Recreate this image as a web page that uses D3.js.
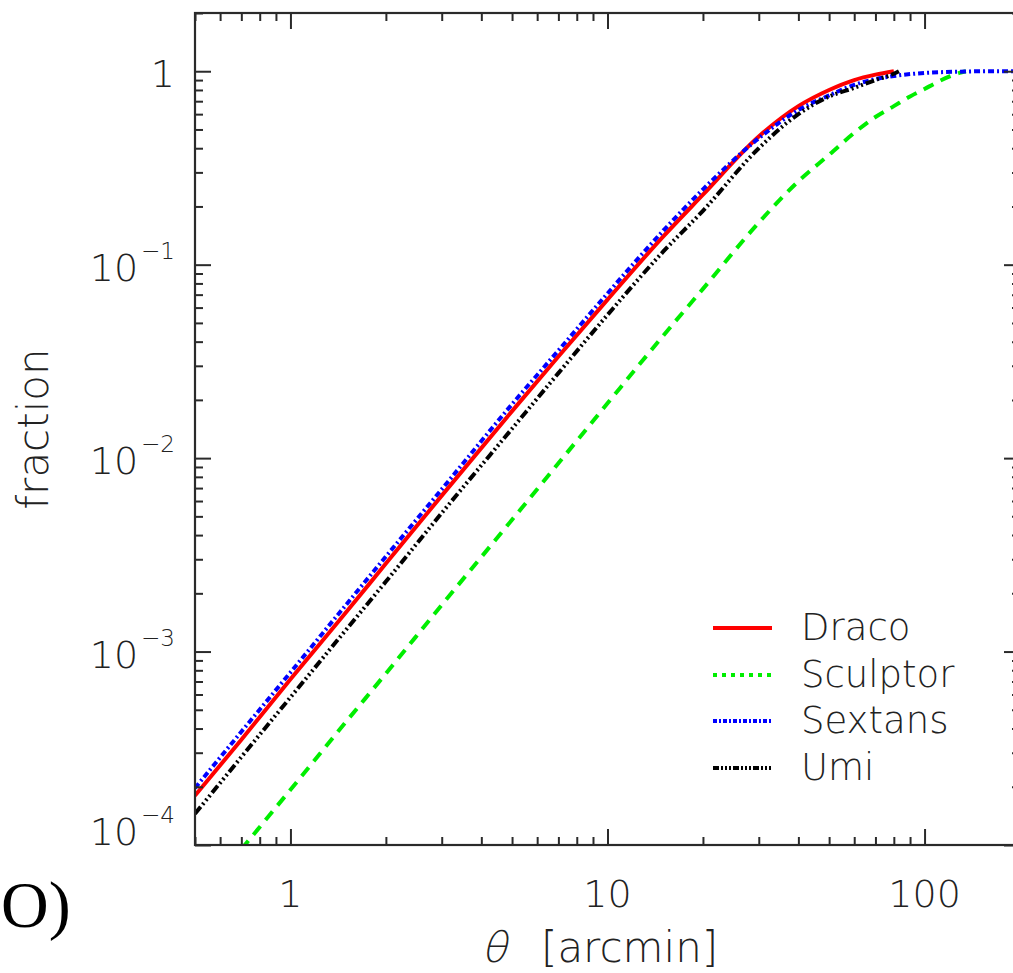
<!DOCTYPE html>
<html>
<head>
<meta charset="utf-8">
<script src="https://cdn.jsdelivr.net/npm/d3@7"></script>
<style>
  html, body { margin: 0; padding: 0; background: #fff; }
  svg { display: block; }
  text { font-family: "DejaVu Sans", sans-serif; font-weight: 200; fill: #222; }
</style>
</head>
<body>
<svg id="chart" width="1013" height="973"></svg>
<script>
// Cumulative fraction of the signal enclosed within angle theta (arcmin)
const galaxies = ["Draco", "Sculptor", "Sextans", "Umi"];

const thetaDraco = [0.5, 0.7, 1, 1.5, 2, 3, 5, 7, 10, 15, 20, 30, 40, 50, 60, 70, 80];
const fracDraco  = [1.8e-4, 3.5e-4, 7.2e-4, 1.6e-3, 2.85e-3, 6.4e-3, 1.75e-2, 3.35e-2, 6.6e-2, 0.14, 0.23, 0.46, 0.66, 0.80, 0.90, 0.96, 1.0];

const thetaSculptor = [0.7, 1, 1.5, 2, 3, 5, 7, 10, 15, 20, 30, 40, 50, 60, 70, 80, 90, 100, 110, 120, 130, 135];
const fracSculptor  = [9.5e-5, 1.93e-4, 4.35e-4, 7.7e-4, 1.74e-3, 4.8e-3, 9.4e-3, 1.92e-2, 4.3e-2, 7.5e-2, 0.165, 0.27, 0.37, 0.48, 0.58, 0.66, 0.74, 0.81, 0.88, 0.94, 0.985, 1.0];

const thetaSextans = [0.5, 0.7, 1, 1.5, 2, 3, 5, 7, 10, 15, 20, 30, 40, 50, 60, 70, 80, 100, 130, 160, 200];
const fracSextans  = [1.97e-4, 3.85e-4, 7.8e-4, 1.75e-3, 3.1e-3, 6.9e-3, 1.9e-2, 3.6e-2, 7.1e-2, 0.15, 0.245, 0.45, 0.63, 0.75, 0.85, 0.91, 0.945, 0.98, 0.995, 1.0, 1.0];

const thetaUmi = [0.5, 0.7, 1, 1.5, 2, 3, 5, 7, 10, 15, 20, 30, 40, 50, 60, 70, 80, 83];
const fracUmi  = [1.45e-4, 2.85e-4, 5.8e-4, 1.3e-3, 2.3e-3, 5.2e-3, 1.42e-2, 2.75e-2, 5.5e-2, 0.117, 0.19, 0.40, 0.60, 0.74, 0.82, 0.90, 0.97, 1.0];

const xTickValues = [1, 10, 100];
const xTickLabels = ["1", "10", "100"];
const yTickValues = [1, 1e-1, 1e-2, 1e-3, 1e-4];
const yTickExponents = [0, -1, -2, -3, -4];

const seriesData = {
  Draco:    { theta: thetaDraco,    frac: fracDraco },
  Sculptor: { theta: thetaSculptor, frac: fracSculptor },
  Sextans:  { theta: thetaSextans,  frac: fracSextans },
  Umi:      { theta: thetaUmi,      frac: fracUmi }
};

const styles = {
  Draco:    { color: "#ff0000", dash: null,                 legendDash: null },
  Sculptor: { color: "#00ee00", dash: "11,8",               legendDash: "4,5" },
  Sextans:  { color: "#0000ff", dash: "6,3,2,3",            legendDash: "4,2,2,2" },
  Umi:      { color: "#000000", dash: "9,3,2,3,2,3,2,3",    legendDash: "6,2,2,2,2,2,2,2" }
};

const svg = d3.select("#chart");
const frame = { left: 195, top: 13, right: 1020, bottom: 845 };

const x = d3.scaleLog().domain([0.5, 200]).range([frame.left, frame.right]);
const y = d3.scaleLog().domain([1e-4, 2]).range([frame.bottom, frame.top]);

const isDecade = v => Math.abs(Math.log10(v) - Math.round(Math.log10(v))) < 1e-9;
const xMinor = x.ticks().filter(v => !isDecade(v));
const yMinor = y.ticks().filter(v => !isDecade(v));

svg.append("rect").attr("width", 1013).attr("height", 973).attr("fill", "#fff");

// clip region for the curves
svg.append("clipPath").attr("id", "plotClip")
  .append("rect")
  .attr("x", frame.left).attr("y", frame.top)
  .attr("width", frame.right - frame.left).attr("height", frame.bottom - frame.top);

// curves
const line = d3.line()
  .x(d => x(d[0]))
  .y(d => y(d[1]))
  .curve(d3.curveMonotoneX);

const curves = svg.append("g").attr("clip-path", "url(#plotClip)");
galaxies.forEach(name => {
  const s = seriesData[name];
  const pts = s.theta.map((t, i) => [t, s.frac[i]]);
  curves.append("path")
    .datum(pts)
    .attr("d", line)
    .attr("fill", "none")
    .attr("stroke", styles[name].color)
    .attr("stroke-width", 4)
    .attr("stroke-dasharray", styles[name].dash);
});

// axes: major and minor ticks pointing into the frame on all four sides
function styleAxis(g) {
  g.select(".domain").remove();
  g.selectAll(".tick line").attr("stroke", "#2a2a2a").attr("stroke-width", 2);
  g.selectAll(".tick text").remove();
}
const axes = svg.append("g");
axes.append("g").attr("transform", `translate(0,${frame.bottom})`)
  .call(d3.axisBottom(x).tickValues(xTickValues).tickSizeInner(-16).tickSizeOuter(0)).call(styleAxis);
axes.append("g").attr("transform", `translate(0,${frame.bottom})`)
  .call(d3.axisBottom(x).tickValues(xMinor).tickSizeInner(-8).tickSizeOuter(0)).call(styleAxis);
axes.append("g").attr("transform", `translate(0,${frame.top})`)
  .call(d3.axisTop(x).tickValues(xTickValues).tickSizeInner(-16).tickSizeOuter(0)).call(styleAxis);
axes.append("g").attr("transform", `translate(0,${frame.top})`)
  .call(d3.axisTop(x).tickValues(xMinor).tickSizeInner(-8).tickSizeOuter(0)).call(styleAxis);
axes.append("g").attr("transform", `translate(${frame.left},0)`)
  .call(d3.axisLeft(y).tickValues(yTickValues).tickSizeInner(-16).tickSizeOuter(0)).call(styleAxis);
axes.append("g").attr("transform", `translate(${frame.left},0)`)
  .call(d3.axisLeft(y).tickValues(yMinor).tickSizeInner(-8).tickSizeOuter(0)).call(styleAxis);
axes.append("g").attr("transform", `translate(${frame.right},0)`)
  .call(d3.axisRight(y).tickValues(yTickValues).tickSizeInner(-16).tickSizeOuter(0)).call(styleAxis);
axes.append("g").attr("transform", `translate(${frame.right},0)`)
  .call(d3.axisRight(y).tickValues(yMinor).tickSizeInner(-8).tickSizeOuter(0)).call(styleAxis);

axes.append("rect")
  .attr("x", frame.left).attr("y", frame.top)
  .attr("width", frame.right - frame.left).attr("height", frame.bottom - frame.top)
  .attr("fill", "none").attr("stroke", "#2a2a2a").attr("stroke-width", 2.2);

// x tick labels
svg.append("g").selectAll("text")
  .data(xTickValues)
  .join("text")
  .attr("x", d => x(d))
  .attr("y", 907)
  .attr("text-anchor", "middle")
  .attr("font-size", 38)
  .text((d, i) => xTickLabels[i]);

// y tick labels with superscript exponents
const yl = svg.append("g").selectAll("text")
  .data(yTickValues)
  .join("text")
  .attr("x", 175)
  .attr("y", d => Math.min(y(d) + 16, frame.bottom))
  .attr("text-anchor", "end")
  .attr("font-size", 38);
yl.each(function(d, i) {
  const t = d3.select(this);
  const e = yTickExponents[i];
  if (e === 0) {
    t.text("1");
  } else {
    t.append("tspan").text("10");
    t.append("tspan").attr("font-size", 23).attr("dy", -22).attr("dx", 3).text("\u2212" + Math.abs(e));
  }
});

// axis titles
svg.append("text")
  .attr("transform", `translate(48,429) rotate(-90)`)
  .attr("text-anchor", "middle")
  .attr("font-size", 42)
  .text("fraction");

// slanted theta drawn from the light upright face
svg.append("text")
  .attr("transform", "translate(481,962) skewX(-14)")
  .attr("font-size", 42)
  .text("\u03b8");
svg.append("text")
  .attr("x", 541).attr("y", 962)
  .attr("font-size", 42)
  .text("[arcmin]");

// legend
const legend = svg.append("g");
const legendRows = [640, 687, 733, 780];
galaxies.forEach((name, i) => {
  const base = legendRows[i];
  legend.append("line")
    .attr("x1", 713).attr("x2", 772)
    .attr("y1", base - 12).attr("y2", base - 12)
    .attr("stroke", styles[name].color)
    .attr("stroke-width", 4)
    .attr("stroke-dasharray", styles[name].legendDash);
  legend.append("text")
    .attr("x", 801).attr("y", base)
    .attr("font-size", 37)
    .text(name);
});

// panel tag at lower left
svg.append("text")
  .attr("x", 1).attr("y", 927)
  .attr("font-size", 66)
  .style("font-family", "'Liberation Serif', serif")
  .style("font-weight", "400")
  .style("fill", "#000")
  .text("O)");
</script>
</body>
</html>
